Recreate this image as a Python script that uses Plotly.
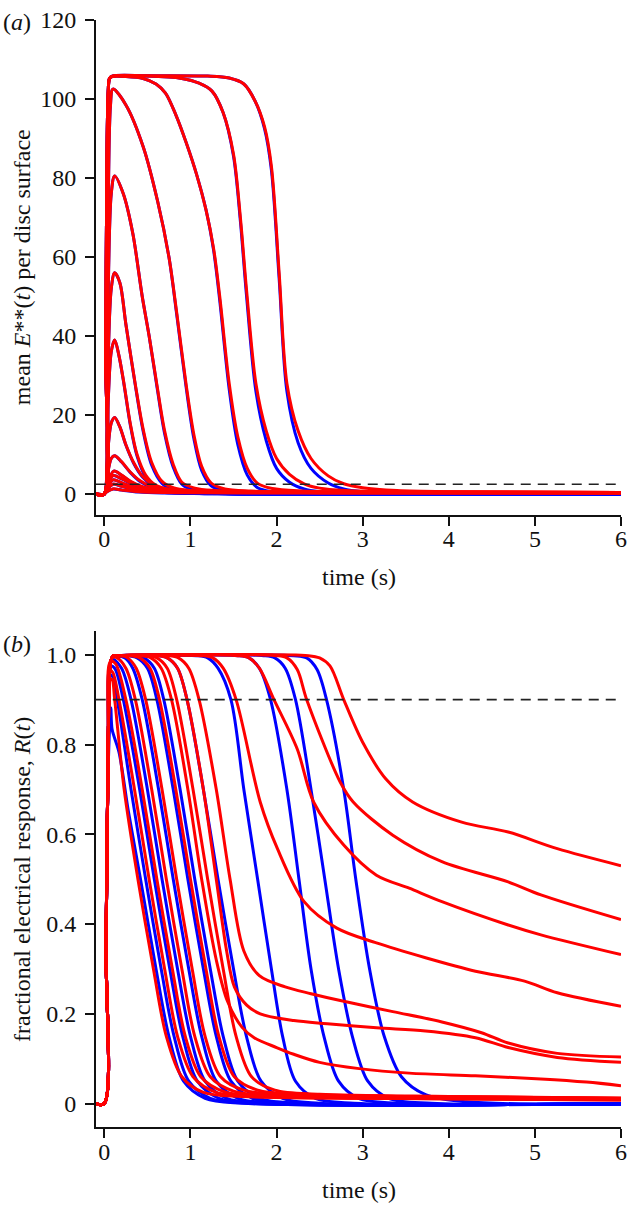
import plotly.graph_objects as go

# ---------------- Panel (a): mean E**(t) per disc surface ----------------
# red (stochastic) curves
a_r1_t = [-0.1, -0.002, 0.03, 0.1, 0.2, 0.4, 0.7, 1.2, 2.5, 6]
a_r1_v = [0, 0, 0.6, 1.3, 1.05, 0.6, 0.4, 0.33, 0.3, 0.25]
a_r2_t = [-0.1, -0.002, 0.03, 0.1, 0.2, 0.4, 0.7, 1.2, 2.5, 6]
a_r2_v = [0, 0, 1.1, 2.5, 2.0, 1.1, 0.55, 0.38, 0.32, 0.28]
a_r3_t = [-0.1, -0.002, 0.03, 0.1, 0.2, 0.35, 0.6, 1.0, 2.0, 6]
a_r3_v = [0, 0, 1.5, 3.6, 2.9, 1.7, 0.8, 0.45, 0.35, 0.3]
a_r4_t = [-0.1, -0.002, 0.03, 0.1, 0.2, 0.35, 0.6, 1.0, 2.0, 6]
a_r4_v = [0, 0, 2.0, 4.7, 3.9, 2.4, 1.1, 0.55, 0.38, 0.3]
a_r5_t = [-0.1, -0.002, 0.03, 0.11, 0.2, 0.3, 0.45, 0.7, 1.2, 2.2, 6]
a_r5_v = [0, 0, 2.4, 5.8, 4.8, 3.3, 1.8, 0.8, 0.45, 0.38, 0.32]
a_r6_t = [-0.1, -0.002, 0.03, 0.08, 0.12, 0.2, 0.3, 0.42, 0.56, 0.8, 1.3, 2.5, 6]
a_r6_v = [0, 0, 4, 9.0, 9.7, 8.2, 5.6, 3.3, 1.8, 0.9, 0.5, 0.4, 0.35]
a_r7_t = [-0.1, -0.002, 0.03, 0.08, 0.12, 0.18, 0.25, 0.34, 0.44, 0.56, 0.72, 1.0, 1.5, 2.5, 6]
a_r7_v = [0, 0, 8, 18.0, 19.4, 17, 12.5, 8, 4.6, 2.5, 1.3, 0.7, 0.5, 0.42, 0.38]
a_r8_t = [-0.1, -0.002, 0.03, 0.08, 0.12, 0.17, 0.23, 0.3, 0.38, 0.48, 0.6, 0.8, 1.1, 1.6, 2.5, 6]
a_r8_v = [0, 0, 15, 36, 39, 35, 27.7, 18, 10, 4.8, 2.2, 1.0, 0.6, 0.48, 0.42, 0.38]
a_r9_t = [-0.1, -0.002, 0.03, 0.08, 0.12, 0.18, 0.25, 0.36, 0.45, 0.55, 0.67, 0.8, 1.0, 1.4, 2.2, 6]
a_r9_v = [0, 0, 22, 52, 56, 53.5, 43, 27.7, 16.5, 8, 3.2, 1.6, 0.9, 0.6, 0.45, 0.4]
a_r10_t = [-0.1, -0.002, 0.03, 0.08, 0.12, 0.22, 0.33, 0.44, 0.52, 0.61, 0.7, 0.8, 0.9, 1.05, 1.3, 1.8, 2.6, 6]
a_r10_v = [0, 0, 30, 76, 80.5, 76, 66, 50, 40, 27.7, 16, 7.5, 3, 1.5, 0.9, 0.6, 0.45, 0.4]
a_r11_t = [-0.1, -0.002, 0.03, 0.07, 0.1, 0.25, 0.45, 0.62, 0.75, 0.84, 0.95, 1.04, 1.13, 1.24, 1.4, 1.7, 2.3, 6]
a_r11_v = [0, 0, 35, 98, 102.5, 98.5, 88, 74, 60, 46, 27.7, 15, 7, 2.8, 1.3, 0.75, 0.5, 0.4]
a_r12_t = [-0.1, -0.002, 0.015, 0.03, 0.045, 0.06, 0.09, 0.25, 0.45, 0.6, 0.71, 0.83, 0.95, 1.07, 1.18,
           1.27, 1.34, 1.45, 1.55, 1.66, 1.78, 1.95, 2.3, 3, 6]
a_r12_v = [0, 0, 35, 85, 102, 105.2, 105.7, 105.7, 105.2, 103.8, 101.5, 96, 89, 81, 72,
           62, 50, 28, 14.5, 6.5, 2.7, 1.4, 0.8, 0.55, 0.4]
a_r13_t = [-0.1, -0.002, 0.015, 0.03, 0.045, 0.06, 0.09, 0.5, 0.9, 1.1, 1.25, 1.38, 1.5, 1.58, 1.65,
           1.76, 1.88, 2.0, 2.15, 2.32, 2.5, 2.8, 3.4, 6]
a_r13_v = [0, 0, 35, 85, 102, 105.2, 105.7, 105.8, 105.2, 104, 102, 96.5, 86, 70, 52,
           28, 16, 9, 5, 2.6, 1.5, 0.9, 0.6, 0.42]
a_r14_t = [-0.1, -0.002, 0.015, 0.03, 0.045, 0.06, 0.09, 0.5, 1.2, 1.45, 1.62, 1.75, 1.86, 1.94, 2.03,
           2.12, 2.25, 2.4, 2.6, 2.78, 3.0, 3.4, 4.0, 6]
a_r14_v = [0, 0, 35, 85, 102, 105.2, 105.8, 105.9, 105.8, 105.3, 103.8, 99.5, 93, 83, 56,
           28, 16, 9, 4.6, 2.6, 1.6, 0.9, 0.6, 0.42]

# blue (deterministic) curves, same time grids as the red ones
a_b1_v = [0, 0, 0.6, 1.3, 1.0, 0.5, 0.25, 0.1, 0.02, 0]
a_b2_v = [0, 0, 1.1, 2.5, 1.95, 0.95, 0.4, 0.15, 0.03, 0]
a_b3_v = [0, 0, 1.5, 3.6, 2.85, 1.6, 0.65, 0.25, 0.05, 0]
a_b4_v = [0, 0, 2.0, 4.7, 3.85, 2.3, 0.95, 0.35, 0.06, 0]
a_b5_v = [0, 0, 2.4, 5.8, 4.75, 3.2, 1.65, 0.6, 0.2, 0.04, 0]
a_b6_v = [0, 0, 4, 9.0, 9.7, 8.1, 5.5, 3.1, 1.6, 0.65, 0.2, 0.03, 0]
a_b7_v = [0, 0, 8, 18.0, 19.4, 17, 12.4, 7.8, 4.4, 2.2, 1.0, 0.35, 0.1, 0.02, 0]
a_b8_v = [0, 0, 15, 36, 39, 35, 27.5, 17.7, 9.6, 4.3, 1.7, 0.5, 0.15, 0.04, 0.01, 0]
a_b9_v = [0, 0, 22, 52, 56, 53.5, 43, 27.5, 16, 7.3, 2.7, 1.1, 0.4, 0.1, 0.02, 0]
a_b10_v = [0, 0, 30, 76, 80.5, 76, 66, 50, 40, 27.3, 15.3, 6.8, 2.5, 0.9, 0.3, 0.06, 0.01, 0]
a_b11_v = [0, 0, 35, 98, 102.5, 98.5, 88, 74, 60, 45.5, 27, 14, 6, 2.1, 0.8, 0.25, 0.05, 0]
a_b12_v = [0, 0, 35, 85, 102, 105.2, 105.7, 105.7, 105.2, 103.8, 101.5, 96, 89, 81, 72,
           61.5, 49, 26.5, 12.5, 4.8, 1.6, 0.6, 0.15, 0.03, 0]
a_b13_v = [0, 0, 35, 85, 102, 105.2, 105.7, 105.8, 105.2, 104, 102, 96.5, 85.5, 69, 50.5,
           26, 13.5, 6.5, 3, 1.3, 0.6, 0.2, 0.05, 0]
a_b14_v = [0, 0, 35, 85, 102, 105.2, 105.8, 105.9, 105.8, 105.3, 103.8, 99.5, 92.5, 82, 54.5,
           26, 13, 6.5, 2.8, 1.3, 0.6, 0.2, 0.05, 0]
a_threshold = 2.5

# ---------------- Panel (b): fractional electrical response R(t) ----------------
# blue (deterministic) curves
b_b1_t = [-0.1, -0.002, 0.02, 0.045, 0.075, 0.09, 0.17, 0.28, 0.42, 0.6, 0.75, 0.92, 1.17, 1.6, 6]
b_b1_v = [0, 0, 0.35, 0.75, 0.882, 0.834, 0.783, 0.65, 0.5, 0.3, 0.15, 0.05, 0.012, 0.001, 0]
b_b2_t = [-0.1, -0.002, 0.02, 0.045, 0.07, 0.1, 0.15, 0.31, 0.48, 0.66, 0.81, 0.98, 1.23, 1.7, 6]
b_b2_v = [0, 0, 0.35, 0.8, 0.955, 0.95, 0.9, 0.7, 0.5, 0.3, 0.15, 0.05, 0.012, 0.001, 0]
b_b3_t = [-0.1, -0.002, 0.02, 0.045, 0.07, 0.12, 0.22, 0.41, 0.58, 0.76, 0.91, 1.08, 1.33, 1.8, 6]
b_b3_v = [0, 0, 0.35, 0.8, 0.975, 0.97, 0.9, 0.7, 0.5, 0.3, 0.15, 0.05, 0.012, 0.001, 0]
b_b4_t = [-0.1, -0.002, 0.02, 0.045, 0.07, 0.1, 0.2, 0.31, 0.5, 0.67, 0.85, 1.0, 1.17, 1.42, 1.9, 6]
b_b4_v = [0, 0, 0.35, 0.8, 0.98, 0.99, 0.97, 0.9, 0.7, 0.5, 0.3, 0.15, 0.05, 0.012, 0.001, 0]
b_b5_t = [-0.1, -0.002, 0.02, 0.045, 0.07, 0.1, 0.15, 0.24, 0.33, 0.44, 0.63, 0.80, 0.98, 1.13, 1.30, 1.55, 2.0, 6]
b_b5_v = [0, 0, 0.35, 0.8, 0.98, 0.995, 0.997, 0.993, 0.97, 0.9, 0.7, 0.5, 0.3, 0.15, 0.05, 0.012, 0.001, 0]
b_b6_t = [-0.1, -0.002, 0.02, 0.045, 0.07, 0.1, 0.15, 0.25, 0.38, 0.5, 0.61, 0.80, 0.97, 1.15, 1.30, 1.47, 1.72, 2.2, 6]
b_b7_t = [-0.1, -0.002, 0.02, 0.045, 0.07, 0.1, 0.15, 0.33, 0.46, 0.58, 0.69, 0.88, 1.05, 1.23, 1.38, 1.55, 1.80, 2.3, 6]
b_b8_t = [-0.1, -0.002, 0.02, 0.045, 0.07, 0.1, 0.15, 0.6, 0.73, 0.85, 0.96, 1.15, 1.32, 1.50, 1.65, 1.82, 2.07, 2.5, 6]
b_b9_t = [-0.1, -0.002, 0.02, 0.045, 0.07, 0.1, 0.15, 1.07, 1.2, 1.32, 1.47, 1.62, 1.78, 1.94, 2.07, 2.22, 2.45, 2.9, 6]
b_b10_t = [-0.1, -0.002, 0.02, 0.045, 0.07, 0.1, 0.15, 1.55, 1.68, 1.8, 1.93, 2.12, 2.26, 2.40, 2.55, 2.72, 2.95, 3.4, 6]
b_b11_t = [-0.1, -0.002, 0.02, 0.045, 0.07, 0.1, 0.15, 1.85, 1.98, 2.1, 2.22, 2.40, 2.56, 2.72, 2.88, 3.06, 3.30, 3.8, 6]
b_bsat_v = [0, 0, 0.35, 0.8, 0.98, 0.997, 0.998, 0.998, 0.993, 0.97, 0.9, 0.7, 0.5, 0.3, 0.15, 0.05, 0.012, 0.001, 0]
b_b12_t = [-0.1, -0.002, 0.02, 0.045, 0.07, 0.1, 0.15, 2.2, 2.35, 2.47, 2.58, 2.78, 2.92, 3.08, 3.25, 3.45, 3.73, 4.2, 6]
b_b12_v = [0, 0, 0.35, 0.8, 0.98, 0.997, 0.998, 0.998, 0.993, 0.967, 0.9, 0.7, 0.5, 0.3, 0.15, 0.06, 0.02, 0.004, 0]

# red (stochastic) curves that return close to zero
b_r1_t = [-0.1, -0.002, 0.02, 0.045, 0.07, 0.09, 0.12, 0.23, 0.39, 0.57, 0.72, 0.9, 1.15, 1.6, 3, 6]
b_r1_v = [0, 0, 0.35, 0.8, 0.945, 0.945, 0.9, 0.7, 0.5, 0.3, 0.15, 0.06, 0.025, 0.016, 0.012, 0.008]
b_r2_t = [-0.1, -0.002, 0.02, 0.045, 0.07, 0.1, 0.17, 0.35, 0.52, 0.70, 0.85, 1.03, 1.3, 1.8, 3, 6]
b_r2_v = [0, 0, 0.35, 0.8, 0.965, 0.96, 0.9, 0.7, 0.5, 0.3, 0.15, 0.06, 0.025, 0.016, 0.012, 0.008]
b_r3_t = [-0.1, -0.002, 0.02, 0.045, 0.07, 0.13, 0.25, 0.44, 0.61, 0.79, 0.94, 1.12, 1.4, 1.9, 3, 6]
b_r3_v = [0, 0, 0.35, 0.8, 0.985, 0.98, 0.9, 0.7, 0.5, 0.3, 0.15, 0.06, 0.026, 0.017, 0.013, 0.009]
b_r4_t = [-0.1, -0.002, 0.02, 0.045, 0.07, 0.1, 0.14, 0.25, 0.36, 0.55, 0.72, 0.90, 1.05, 1.23, 1.5, 2.0, 3.5, 6]
b_r4_v = [0, 0, 0.35, 0.8, 0.98, 0.995, 0.994, 0.97, 0.9, 0.7, 0.5, 0.3, 0.15, 0.06, 0.028, 0.018, 0.013, 0.01]
b_r5_t = [-0.1, -0.002, 0.02, 0.045, 0.07, 0.1, 0.15, 0.2, 0.27, 0.37, 0.48, 0.67, 0.84, 1.02, 1.17, 1.35, 1.62, 2.1, 3.5, 6]
b_r6_t = [-0.1, -0.002, 0.02, 0.045, 0.07, 0.1, 0.15, 0.28, 0.41, 0.53, 0.64, 0.83, 1.0, 1.18, 1.33, 1.51, 1.78, 2.3, 3.5, 6]
b_r7_t = [-0.1, -0.002, 0.02, 0.045, 0.07, 0.1, 0.15, 0.48, 0.61, 0.73, 0.84, 1.03, 1.2, 1.38, 1.53, 1.71, 1.98, 2.5, 4, 6]
b_rsat_v = [0, 0, 0.35, 0.8, 0.98, 0.997, 0.998, 0.998, 0.993, 0.97, 0.9, 0.7, 0.5, 0.3, 0.15, 0.06, 0.03, 0.021, 0.016, 0.012]

# red curves with long residual tails
b_c7_t = [-0.1, -0.002, 0.02, 0.045, 0.07, 0.1, 0.15, 0.41, 0.54, 0.66, 0.78, 0.97, 1.13, 1.3, 1.43, 1.6, 1.74,
          2.0, 2.2, 2.5, 2.96, 3.54, 4.31, 5.07, 5.6, 6]
b_c7_v = [0, 0, 0.35, 0.8, 0.98, 0.997, 0.998, 0.998, 0.993, 0.97, 0.9, 0.7, 0.5, 0.32, 0.228, 0.17, 0.147,
          0.125, 0.11, 0.092, 0.078, 0.068, 0.062, 0.055, 0.048, 0.04]
b_c6_t = [-0.1, -0.002, 0.02, 0.045, 0.07, 0.1, 0.15, 0.6, 0.73, 0.85, 0.96, 1.15, 1.30, 1.42, 1.51, 1.65, 1.81,
          2.2, 2.59, 3.16, 3.73, 4.31, 4.69, 5.26, 6]
b_c6_v = [0, 0, 0.35, 0.8, 0.98, 0.997, 0.998, 0.998, 0.993, 0.97, 0.9, 0.7, 0.5, 0.34, 0.26, 0.22, 0.20,
          0.185, 0.178, 0.169, 0.162, 0.147, 0.125, 0.103, 0.092]
b_c5_t = [-0.1, -0.002, 0.02, 0.045, 0.07, 0.1, 0.15, 0.73, 0.86, 0.98, 1.1, 1.3, 1.46, 1.62, 1.8, 2.1, 2.4,
          2.78, 3.35, 3.92, 4.38, 4.69, 5.26, 6]
b_c5_v = [0, 0, 0.35, 0.8, 0.98, 0.997, 0.998, 0.998, 0.993, 0.97, 0.9, 0.7, 0.5, 0.34, 0.285, 0.26, 0.245,
          0.228, 0.205, 0.182, 0.158, 0.135, 0.112, 0.104]
b_c4_t = [-0.1, -0.002, 0.02, 0.045, 0.07, 0.1, 0.15, 1.13, 1.26, 1.38, 1.53, 1.81, 2.01, 2.32, 2.70, 3.16,
          3.73, 4.31, 4.88, 5.26, 6]
b_c4_v = [0, 0, 0.35, 0.8, 0.98, 0.997, 0.998, 0.998, 0.993, 0.97, 0.9, 0.672, 0.568, 0.45, 0.391, 0.358,
          0.325, 0.295, 0.273, 0.247, 0.217]
b_c3_t = [-0.1, -0.002, 0.02, 0.045, 0.07, 0.1, 0.15, 1.55, 1.68, 1.8, 1.97, 2.24, 2.43, 2.78, 3.16, 3.54,
          3.92, 4.69, 5.07, 6]
b_c3_v = [0, 0, 0.35, 0.8, 0.98, 0.997, 0.998, 0.998, 0.993, 0.97, 0.9, 0.79, 0.672, 0.576, 0.509, 0.48,
          0.45, 0.398, 0.376, 0.332]
b_c2_t = [-0.1, -0.002, 0.02, 0.045, 0.07, 0.1, 0.15, 1.99, 2.12, 2.24, 2.35, 2.74, 2.89, 3.35, 3.92, 4.69,
          5.07, 6]
b_c2_v = [0, 0, 0.35, 0.8, 0.98, 0.997, 0.998, 0.998, 0.993, 0.967, 0.9, 0.716, 0.672, 0.598, 0.539, 0.494,
          0.465, 0.41]
b_c1_t = [-0.1, -0.002, 0.02, 0.045, 0.07, 0.1, 0.15, 2.37, 2.5, 2.62, 2.78, 3.0, 3.27, 3.58, 4.15, 4.69,
          5.26, 6]
b_c1_v = [0, 0, 0.35, 0.8, 0.98, 0.997, 0.998, 0.998, 0.993, 0.975, 0.9, 0.805, 0.723, 0.672, 0.627, 0.605,
          0.568, 0.53]
b_threshold = 0.9

x_ticks = [0, 1, 2, 3, 4, 5, 6]
a_ticks = [0, 20, 40, 60, 80, 100, 120]
b_ticks = [0, 0.2, 0.4, 0.6, 0.8, 1.0]
b_tick_text = ["0", "0.2", "0.4", "0.6", "0.8", "1.0"]

RED = "#ff0000"
BLUE = "#0000ff"
INK = "#111111"
FONT = "Liberation Serif, Times New Roman, Times, serif"
FS = 24

a_red = [(a_r1_t, a_r1_v), (a_r2_t, a_r2_v), (a_r3_t, a_r3_v), (a_r4_t, a_r4_v), (a_r5_t, a_r5_v),
         (a_r6_t, a_r6_v), (a_r7_t, a_r7_v), (a_r8_t, a_r8_v), (a_r9_t, a_r9_v), (a_r10_t, a_r10_v),
         (a_r11_t, a_r11_v), (a_r12_t, a_r12_v), (a_r13_t, a_r13_v), (a_r14_t, a_r14_v)]
a_blue = [(a_r1_t, a_b1_v), (a_r2_t, a_b2_v), (a_r3_t, a_b3_v), (a_r4_t, a_b4_v), (a_r5_t, a_b5_v),
          (a_r6_t, a_b6_v), (a_r7_t, a_b7_v), (a_r8_t, a_b8_v), (a_r9_t, a_b9_v), (a_r10_t, a_b10_v),
          (a_r11_t, a_b11_v), (a_r12_t, a_b12_v), (a_r13_t, a_b13_v), (a_r14_t, a_b14_v)]
b_blue = [(b_b1_t, b_b1_v), (b_b2_t, b_b2_v), (b_b3_t, b_b3_v), (b_b4_t, b_b4_v), (b_b5_t, b_b5_v),
          (b_b6_t, b_bsat_v), (b_b7_t, b_bsat_v), (b_b8_t, b_bsat_v), (b_b9_t, b_bsat_v),
          (b_b10_t, b_bsat_v), (b_b11_t, b_bsat_v), (b_b12_t, b_b12_v)]
b_red = [(b_r1_t, b_r1_v), (b_r2_t, b_r2_v), (b_r3_t, b_r3_v), (b_r4_t, b_r4_v),
         (b_r5_t, b_rsat_v), (b_r6_t, b_rsat_v), (b_r7_t, b_rsat_v),
         (b_c7_t, b_c7_v), (b_c6_t, b_c6_v), (b_c5_t, b_c5_v), (b_c4_t, b_c4_v),
         (b_c3_t, b_c3_v), (b_c2_t, b_c2_v), (b_c1_t, b_c1_v)]

fig = go.Figure()


def add(t, v, color, xa, ya):
    fig.add_trace(go.Scatter(x=t, y=v, mode="lines", xaxis=xa, yaxis=ya, showlegend=False,
                             hoverinfo="skip",
                             line=dict(color=color, width=3, shape="spline", smoothing=0.9)))


for t, v in a_blue:
    add(t, v, BLUE, "x", "y")
for t, v in a_red:
    add(t, v, RED, "x", "y")
fig.add_trace(go.Scatter(x=[-0.1, 6], y=[a_threshold, a_threshold], mode="lines", xaxis="x", yaxis="y",
                         showlegend=False, hoverinfo="skip",
                         line=dict(color="#222222", width=1.6, dash="10px,7px")))

for t, v in b_blue:
    add(t, v, BLUE, "x2", "y2")
for t, v in b_red:
    add(t, v, RED, "x2", "y2")
fig.add_trace(go.Scatter(x=[-0.1, 6], y=[b_threshold, b_threshold], mode="lines", xaxis="x2", yaxis="y2",
                         showlegend=False, hoverinfo="skip",
                         line=dict(color="#222222", width=1.6, dash="10px,7px")))

axis_common = dict(showgrid=False, zeroline=False, showline=True, linecolor=INK, linewidth=2,
                   ticks="outside", ticklen=9, tickwidth=2, tickcolor=INK,
                   tickfont=dict(family=FONT, size=FS, color=INK))

fig.update_layout(
    width=634, height=1205,
    margin=dict(l=96, r=7, t=13, b=78),
    paper_bgcolor="white", plot_bgcolor="white",
    xaxis=dict(domain=[0, 1], range=[-0.097, 6.0], tickvals=x_ticks, anchor="y",
               ticklabelstandoff=-7, **axis_common),
    yaxis=dict(domain=[0.5532, 1.0], range=[-5.2, 120], tickvals=a_ticks, anchor="x",
               ticklabelstandoff=4, **axis_common),
    xaxis2=dict(domain=[0, 1], range=[-0.097, 6.0], tickvals=x_ticks, anchor="y2",
                ticklabelstandoff=-7, **axis_common),
    yaxis2=dict(domain=[0, 0.4477], range=[-0.052, 1.052], tickvals=b_ticks, ticktext=b_tick_text,
                anchor="x2", ticklabelstandoff=4, **axis_common),
)

ann_font = dict(family=FONT, size=FS, color=INK)
fig.add_annotation(text="mean <i>E</i>**(<i>t</i>) per disc surface", xref="paper", yref="paper",
                   x=(21 - 96) / 531, y=0.7766, textangle=-90, showarrow=False, font=ann_font,
                   xanchor="center", yanchor="middle")
fig.add_annotation(text="fractional electrical response, <i>R</i>(<i>t</i>)", xref="paper", yref="paper",
                   x=(21 - 96) / 531, y=0.2239, textangle=-90, showarrow=False, font=ann_font,
                   xanchor="center", yanchor="middle")
fig.add_annotation(text="time (s)", xref="paper", yref="paper", x=0.5, y=(1127 - 574) / 1114,
                   showarrow=False, font=ann_font, xanchor="center", yanchor="middle")
fig.add_annotation(text="time (s)", xref="paper", yref="paper", x=0.5, y=(1127 - 1190) / 1114,
                   showarrow=False, font=ann_font, xanchor="center", yanchor="middle")
fig.add_annotation(text="(<i>a</i>)", xref="paper", yref="paper", x=(16 - 96) / 531, y=(1127 - 15) / 1114,
                   showarrow=False, font=ann_font, xanchor="center", yanchor="middle")
fig.add_annotation(text="(<i>b</i>)", xref="paper", yref="paper", x=(16 - 96) / 531, y=(1127 - 641) / 1114,
                   showarrow=False, font=ann_font, xanchor="center", yanchor="middle")

fig.write_html("out.html", config={"displayModeBar": False},
               post_script="document.body.style.margin='0px';document.body.style.overflow='hidden';")
